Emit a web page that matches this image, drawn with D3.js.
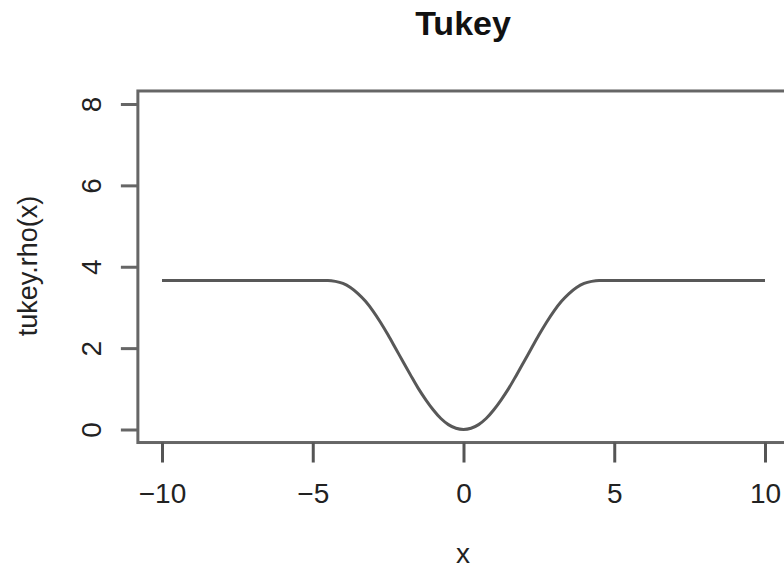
<!DOCTYPE html>
<html>
<head>
<meta charset="utf-8">
<script src="https://cdn.jsdelivr.net/npm/d3@7"></script>
<style>
  body { margin: 0; background: #fff; }
  svg text { font-family: "Liberation Sans", Arial, sans-serif; fill: #222; }
</style>
</head>
<body>
<svg id="chart"></svg>
<script>
// values
const xValues = [-10, -4.7, -4.5, -4.25, -4, -3.75, -3.5, -3.25, -3, -2.75, -2.5, -2.25, -2, -1.75, -1.5, -1.25, -1, -0.75, -0.5, -0.25,
  0, 0.25, 0.5, 0.75, 1, 1.25, 1.5, 1.75, 2, 2.25, 2.5, 2.75, 3, 3.25, 3.5, 3.75, 4, 4.25, 4.5, 4.7, 10];
const rhoValues = [3.66, 3.66, 3.66, 3.64, 3.59, 3.49, 3.34, 3.15, 2.91, 2.63, 2.32, 1.99, 1.66, 1.33, 1.01, 0.73, 0.48, 0.27, 0.12, 0.03,
  0, 0.03, 0.12, 0.27, 0.48, 0.73, 1.01, 1.33, 1.66, 1.99, 2.32, 2.63, 2.91, 3.15, 3.34, 3.49, 3.59, 3.64, 3.66, 3.66, 3.66];
const xTicks = [-10, -5, 0, 5, 10];
const yTicks = [0, 2, 4, 6, 8];

const WIDTH = 784;
const HEIGHT = 570;
const svg = d3.select("#chart").attr("width", WIDTH).attr("height", HEIGHT);

const xScale = d3.scaleLinear([-10, 10], [162, 765]);
const yScale = d3.scaleLinear([0, 8], [429.5, 104]);

// R-style 4% padding around the data range for the box
const boxX0 = xScale(-10.8), boxX1 = xScale(10.8);
const boxY0 = yScale(8.32), boxY1 = yScale(-0.32);

const line = d3.line()
	.x((d, i) => xScale(xValues[i]))
	.y(d => yScale(d))
	.curve(d3.curveMonotoneX);

svg.append("path")
	.datum(rhoValues)
	.attr("d", line)
	.attr("fill", "none")
	.attr("stroke", "#585858")
	.attr("stroke-width", 3);

svg.append("rect")
	.attr("x", boxX0)
	.attr("y", boxY0)
	.attr("width", boxX1 - boxX0)
	.attr("height", boxY1 - boxY0)
	.attr("fill", "none")
	.attr("stroke", "#666")
	.attr("stroke-width", 3);

const xAxis = svg.append("g")
	.attr("transform", `translate(0,${boxY1})`)
	.call(d3.axisBottom(xScale).tickValues(xTicks).tickSize(20).tickFormat(d => d < 0 ? "\u2212" + Math.abs(d) : d));
xAxis.select(".domain").remove();
xAxis.selectAll("line").attr("stroke", "#555").attr("stroke-width", 3);
xAxis.selectAll("text")
	.attr("y", 60)
	.attr("dy", null)
	.attr("font-size", 28)
	.attr("font-family", null);

const yAxis = svg.append("g")
	.attr("transform", `translate(${boxX0},0)`)
	.call(d3.axisLeft(yScale).tickValues(yTicks).tickSize(17));
yAxis.select(".domain").remove();
yAxis.selectAll("line").attr("stroke", "#666").attr("stroke-width", 3);
yAxis.selectAll("text")
	.attr("x", null)
	.attr("dy", null)
	.attr("transform", "translate(-37,0) rotate(-90)")
	.attr("text-anchor", "middle")
	.attr("font-size", 28)
	.attr("font-family", null);

svg.append("text")
	.attr("x", 463)
	.attr("y", 35)
	.attr("text-anchor", "middle")
	.attr("font-size", 34)
	.attr("font-weight", "bold")
	.style("fill", "#111")
	.text("Tukey");

svg.append("text")
	.attr("x", 463)
	.attr("y", 563)
	.attr("text-anchor", "middle")
	.attr("font-size", 28)
	.text("x");

svg.append("text")
	.attr("transform", "translate(37,266) rotate(-90)")
	.attr("text-anchor", "middle")
	.attr("font-size", 27)
	.text("tukey.rho(x)");
</script>
</body>
</html>
